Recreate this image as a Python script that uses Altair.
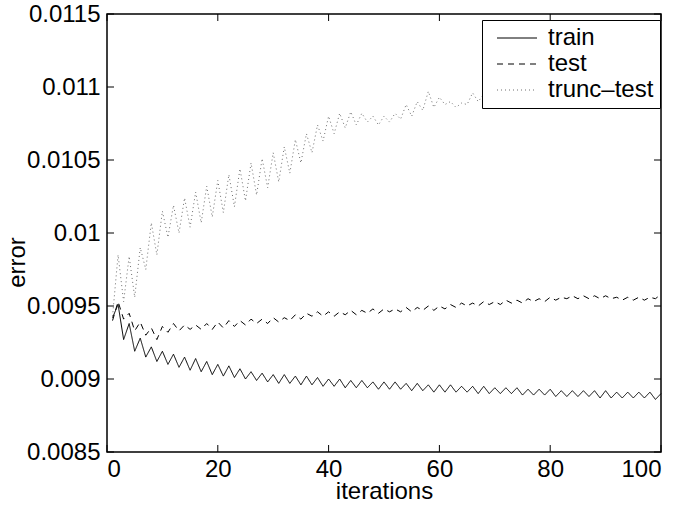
import altair as alt
import pandas as pd

iterations = list(range(1, 101))

train = [
    0.00942, 0.00951, 0.00927, 0.00938, 0.00919, 0.00928, 0.00915, 0.00922, 0.00912, 0.00919,
    0.00910, 0.00917, 0.00908, 0.00915, 0.00906, 0.00914, 0.00905, 0.00912, 0.00903, 0.00910,
    0.00902, 0.00909, 0.00901, 0.00907, 0.00900, 0.00905, 0.00899, 0.00904, 0.00898, 0.00903,
    0.00897, 0.00903, 0.00897, 0.00902, 0.00896, 0.00902, 0.00896, 0.00901, 0.00895, 0.00900,
    0.00895, 0.00900, 0.00894, 0.00899, 0.00894, 0.00899, 0.00894, 0.00898, 0.00893, 0.00898,
    0.00893, 0.00898, 0.00893, 0.00897, 0.00892, 0.00897, 0.00892, 0.00896, 0.00891, 0.00896,
    0.00891, 0.00896, 0.00891, 0.00895, 0.00891, 0.00895, 0.00890, 0.00895, 0.00890, 0.00894,
    0.00890, 0.00894, 0.00890, 0.00894, 0.00889, 0.00893, 0.00889, 0.00893, 0.00889, 0.00893,
    0.00888, 0.00892, 0.00888, 0.00892, 0.00888, 0.00892, 0.00888, 0.00892, 0.00887, 0.00892,
    0.00887, 0.00891, 0.00887, 0.00891, 0.00887, 0.00891, 0.00887, 0.00891, 0.00886, 0.00890,
]

test = [
    0.00940, 0.00953, 0.00941, 0.00945, 0.00933, 0.00939, 0.00930, 0.00935, 0.00927, 0.00936,
    0.00932, 0.00938, 0.00933, 0.00937, 0.00934, 0.00937, 0.00934, 0.00938, 0.00934, 0.00939,
    0.00935, 0.00940, 0.00936, 0.00940, 0.00937, 0.00941, 0.00938, 0.00941, 0.00938, 0.00942,
    0.00939, 0.00942, 0.00940, 0.00944, 0.00941, 0.00945, 0.00943, 0.00946, 0.00943, 0.00946,
    0.00943, 0.00946, 0.00944, 0.00947, 0.00944, 0.00947, 0.00945, 0.00948, 0.00945, 0.00948,
    0.00946, 0.00948, 0.00946, 0.00949, 0.00946, 0.00949, 0.00947, 0.00950, 0.00947, 0.00950,
    0.00948, 0.00951, 0.00949, 0.00952, 0.00950, 0.00952, 0.00950, 0.00953, 0.00951, 0.00953,
    0.00951, 0.00954, 0.00952, 0.00954, 0.00952, 0.00955, 0.00953, 0.00955, 0.00953, 0.00956,
    0.00954, 0.00956, 0.00955, 0.00957, 0.00955, 0.00957, 0.00955, 0.00957, 0.00955, 0.00957,
    0.00955, 0.00956, 0.00954, 0.00956, 0.00954, 0.00956, 0.00954, 0.00956, 0.00955, 0.00958,
]

trunc_test = [
    0.00943, 0.00985, 0.00953, 0.00984, 0.00956, 0.00990, 0.00975, 0.01007, 0.00985, 0.01015,
    0.00997, 0.01019, 0.01000, 0.01024, 0.01004, 0.01028, 0.01007, 0.01032, 0.01011, 0.01036,
    0.01014, 0.01040, 0.01018, 0.01044, 0.01022, 0.01048, 0.01026, 0.01051, 0.01031, 0.01055,
    0.01035, 0.01059, 0.01041, 0.01064, 0.01048, 0.01068, 0.01055, 0.01074, 0.01063, 0.01080,
    0.01068, 0.01082, 0.01072, 0.01083, 0.01074, 0.01082, 0.01076, 0.01080, 0.01074, 0.01080,
    0.01076, 0.01082, 0.01078, 0.01088, 0.01080, 0.01090, 0.01084, 0.01097, 0.01086, 0.01093,
    0.01088, 0.01090, 0.01086, 0.01089, 0.01088, 0.01096, 0.01090, 0.01095, 0.01092, 0.01097,
    0.01093, 0.01098, 0.01094, 0.01099, 0.01095, 0.01100, 0.01096, 0.01101, 0.01097, 0.01102,
    0.01098, 0.01103, 0.01099, 0.01104, 0.01100, 0.01105, 0.01101, 0.01106, 0.01102, 0.01107,
    0.01103, 0.01108, 0.01104, 0.01109, 0.01105, 0.01110, 0.01106, 0.01110, 0.01107, 0.01111,
]

series_names = ["train", "test", "trunc\u2013test"]
series_colors = ["#000000", "#000000", "#6e6e6e"]
series_dashes = [[1, 0], [6, 5], [1, 3]]

x_ticks = [0, 20, 40, 60, 80, 100]
y_ticks = [0.0085, 0.009, 0.0095, 0.01, 0.0105, 0.011, 0.0115]

rows = []
for name, vals in zip(series_names, [train, test, trunc_test]):
    for it, v in zip(iterations, vals):
        rows.append({"iteration": it, "value": v, "series": name})
df = pd.DataFrame(rows)

FONT = "Liberation Sans"
FS = 24
W, H = 554, 438
TICK = 7

xscale = alt.Scale(domain=[0, 100], nice=False, zero=False)
yscale = alt.Scale(domain=[0.0085, 0.0115], nice=False, zero=False)

xaxis = alt.Axis(values=x_ticks, title="iterations", grid=False, domain=False,
                 tickSize=0, labelPadding=5, labelFontSize=FS, labelFont=FONT,
                 titleFontSize=FS, titleFont=FONT, titleFontWeight="normal",
                 titlePadding=-2, labelColor="black", titleColor="black")
yaxis = alt.Axis(values=y_ticks, title="error", grid=False, domain=False,
                 tickSize=0, labelPadding=7, labelFontSize=FS, labelFont=FONT,
                 labelExpr="format(datum.value, '.4~f')", labelOverlap=False,
                 titleFontSize=FS, titleFont=FONT, titleFontWeight="normal",
                 titleX=-78, titleY=248, titleAngle=270, titleAlign="center",
                 titleBaseline="bottom",
                 labelColor="black", titleColor="black")

X = lambda: alt.X("iteration:Q", scale=xscale, axis=xaxis)
Y = lambda: alt.Y("value:Q", scale=yscale, axis=yaxis)

legend = alt.Legend(title=None, orient="none", legendX=375, legendY=6,
                    fillColor="white", strokeColor="black", padding=6,
                    labelFontSize=FS, labelFont=FONT, labelColor="black",
                    symbolType="M-2,0H2", symbolSize=400, symbolStrokeWidth=1,
                    symbolOffset=17, rowPadding=2, labelOffset=19)

lines = alt.Chart(df).mark_line(strokeWidth=1).encode(
    x=X(), y=Y(),
    color=alt.Color("series:N", scale=alt.Scale(domain=series_names, range=series_colors),
                    legend=legend, sort=series_names),
    strokeDash=alt.StrokeDash("series:N", scale=alt.Scale(domain=series_names, range=series_dashes),
                              legend=legend, sort=series_names),
)

ytick_df = pd.DataFrame({"value": y_ticks})
xtick_df = pd.DataFrame({"iteration": x_ticks})

yt_left = alt.Chart(ytick_df).mark_rule(color="black", strokeWidth=1).encode(
    y=Y(), x=alt.value(0), x2=alt.value(TICK))
yt_right = alt.Chart(ytick_df).mark_rule(color="black", strokeWidth=1).encode(
    y=Y(), x=alt.value(W - TICK), x2=alt.value(W))
xt_bottom = alt.Chart(xtick_df).mark_rule(color="black", strokeWidth=1).encode(
    x=X(), y=alt.value(H - TICK), y2=alt.value(H))
xt_top = alt.Chart(xtick_df).mark_rule(color="black", strokeWidth=1).encode(
    x=X(), y=alt.value(0), y2=alt.value(TICK))

chart = alt.layer(lines, yt_left, yt_right, xt_bottom, xt_top).properties(
    width=W, height=H,
    autosize=alt.AutoSizeParams(type="none"),
    padding={"left": 107, "top": 14, "right": 25, "bottom": 58},
    background="white",
).configure_view(stroke="black", strokeWidth=1.5)

chart.save("out.html", embed_options={"renderer": "svg", "actions": False})
